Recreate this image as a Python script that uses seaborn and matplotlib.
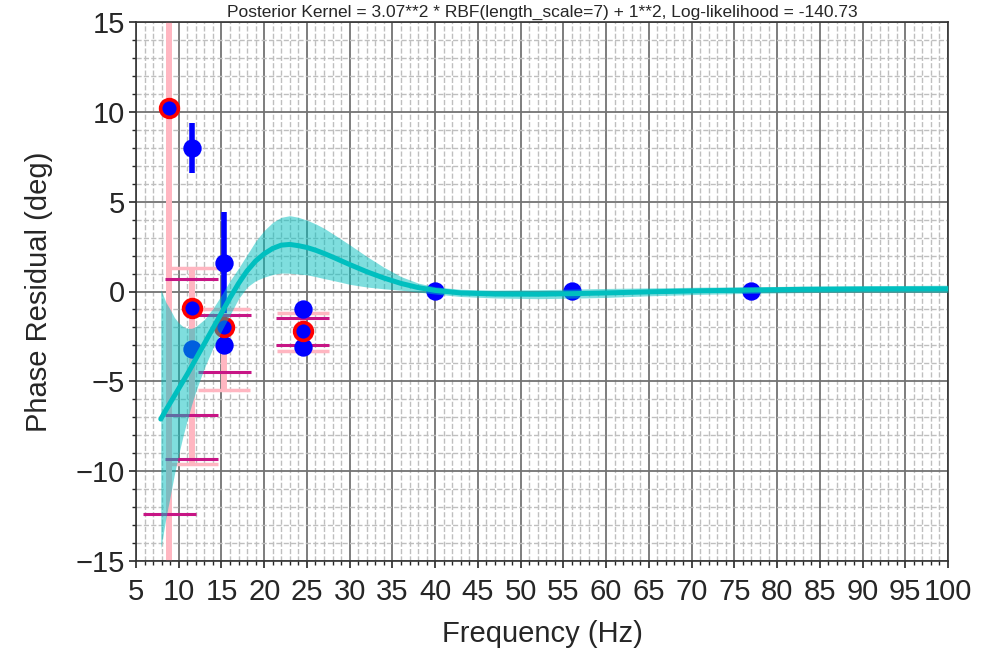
import numpy as np
import matplotlib
matplotlib.use('Agg')
import matplotlib.pyplot as plt
from matplotlib.ticker import MultipleLocator
import seaborn as sns

sns.set_style('white')
plt.rcParams['font.family'] = ['Liberation Sans', 'DejaVu Sans']

title = 'Posterior Kernel = 3.07**2 * RBF(length_scale=7) + 1**2, Log-likelihood = -140.73'

# single measurements
meas_freq = np.array([11.5, 11.5, 15.3, 15.3, 24.5, 24.5, 40, 56, 77])
meas_val = np.array([8.0, -3.2, 1.6, -3.0, -1.0, -3.1, 0.05, 0.05, 0.05])

# measurements with their own uncertainty
err_freq = np.array([11.5, 15.3])
err_val = np.array([8.0, 1.6])
err_size = np.array([1.4, 2.8])

# combined points per frequency
mean_freq = np.array([8.9, 11.5, 15.3, 24.5])
mean_val = np.array([10.2, -0.9, -2.0, -2.2])
pink_lo = np.array([-22.0, -9.6, -5.5, -3.3])
pink_hi = np.array([35.0, 1.3, -1.0, -1.2])

# second interval marks
mag_freq = np.array([8.9, 11.5, 11.5, 11.5, 15.3, 15.3, 24.5, 24.5])
mag_val = np.array([-12.4, 0.7, -6.9, -9.3, -1.3, -4.5, -1.5, -3.0])

# GP posterior mean and std
gp_freq = np.array([7.9, 8.5, 9, 9.5, 10, 10.5, 11, 11.5, 12, 13, 14, 15, 16, 17, 18, 19,
                    20, 21, 22, 23, 24, 25, 26, 27, 28, 30, 32, 34, 36, 38, 40, 43, 47,
                    52, 56, 60, 65, 71, 77, 83, 90, 100])
gp_mean = np.array([-7.1, -6.6, -6.2, -5.8, -5.4, -5.0, -4.6, -4.18, -3.75, -2.9, -2.05,
                    -1.2, -0.35, 0.45, 1.15, 1.7, 2.1, 2.4, 2.58, 2.62, 2.55, 2.45, 2.3,
                    2.12, 1.92, 1.5, 1.1, 0.75, 0.45, 0.22, 0.06, -0.08, -0.14, -0.15,
                    -0.12, -0.08, -0.02, 0.04, 0.08, 0.12, 0.14, 0.15])
gp_sd = np.array([7.2, 6.0, 5.2, 4.35, 3.65, 3.05, 2.55, 2.13, 1.8, 1.35, 1.1, 1.0, 0.95,
                  0.85, 0.9, 1.1, 1.3, 1.45, 1.55, 1.6, 1.58, 1.52, 1.47, 1.4, 1.3, 1.1,
                  0.85, 0.6, 0.38, 0.25, 0.2, 0.2, 0.22, 0.25, 0.25, 0.25, 0.22, 0.2,
                  0.18, 0.18, 0.18, 0.2])

fig = plt.figure(figsize=(9.9, 6.53), dpi=100)
ax = fig.add_axes([136 / 990, 92 / 653, 812 / 990, 539 / 653])

ax.errorbar(mean_freq, mean_val, yerr=[mean_val - pink_lo, pink_hi - mean_val], fmt='none',
            ecolor='lightpink', elinewidth=4.3, capsize=19, capthick=2.5, zorder=2)
ax.hlines(mag_val, mag_freq - 3.1, mag_freq + 3.1, color='mediumvioletred', lw=2.2, zorder=2.5)

ax.errorbar(err_freq, err_val, yerr=err_size, fmt='none', ecolor='b', elinewidth=4, zorder=3)
sns.scatterplot(x=meas_freq, y=meas_val, color='b', s=175, linewidth=0, ax=ax, zorder=3)
ax.plot(mean_freq, mean_val, 'o', ms=12.8, mfc='b', mec='r', mew=2.6, zorder=3.5)

ax.fill_between(gp_freq, gp_mean - gp_sd, gp_mean + gp_sd, color='c', alpha=0.5, lw=0, zorder=4)
sns.lineplot(x=gp_freq, y=gp_mean, color='c', lw=3.6, ax=ax, zorder=5)

ax.set_xlim(5, 100)
ax.set_ylim(-15, 15)
ax.xaxis.set_major_locator(MultipleLocator(5))
ax.xaxis.set_minor_locator(MultipleLocator(1))
ax.yaxis.set_major_locator(MultipleLocator(5))
ax.yaxis.set_minor_locator(MultipleLocator(1))
ax.set_axisbelow(True)
ax.grid(which='major', color='0.45', lw=1.3)
ax.grid(which='minor', color='0.75', ls='--', lw=1)
ax.tick_params(which='major', direction='out', length=5, width=1.2, labelsize=21,
               left=True, bottom=True)
ax.tick_params(axis='x', which='major', pad=7)
ax.tick_params(axis='y', which='major', pad=3)
ax.tick_params(which='minor', direction='out', length=3, width=1, left=True, bottom=True)
for s in ax.spines.values():
    s.set_color('0.2')
    s.set_linewidth(1.2)

ax.set_xlabel('Frequency (Hz)', fontsize=21, labelpad=10)
ax.set_ylabel('Phase Residual (deg)', fontsize=21, labelpad=16)
ax.set_title(title, fontsize=12.5, pad=4)

fig.savefig('out.png', dpi=100)
